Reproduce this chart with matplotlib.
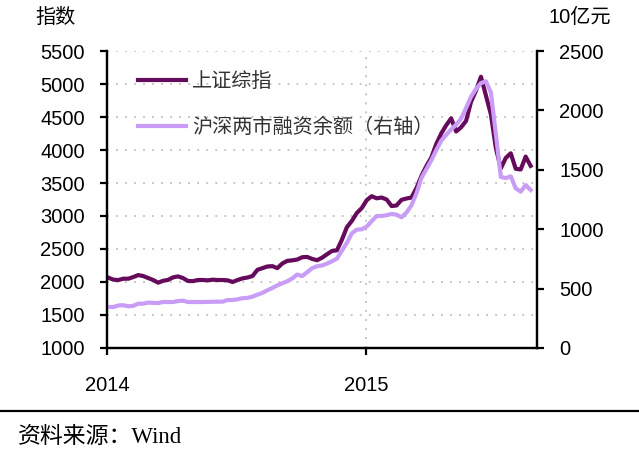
import matplotlib
matplotlib.use("Agg")
import matplotlib.pyplot as plt
import matplotlib.dates as mdates
import pandas as pd

plt.rcParams['font.family'] = ['Liberation Sans', 'Noto Sans CJK SC']

# weekly data, 2014-01-03 .. 2015-08-21
dates = pd.date_range("2014-01-03", periods=86, freq="7D")
sh_index = [2065, 2035, 2030, 2050, 2050, 2075, 2105, 2090, 2060, 2030,
            1990, 2018, 2032, 2070, 2085, 2060, 2015, 2013, 2030, 2030,
            2025, 2035, 2030, 2030, 2025, 2000, 2030, 2055, 2068, 2090,
            2185, 2210, 2235, 2240, 2210, 2280, 2320, 2328, 2340, 2375,
            2380, 2350, 2330, 2368, 2420, 2470, 2480, 2640, 2830, 2925,
            3045, 3120, 3240, 3300, 3268, 3280, 3250, 3151, 3160, 3245,
            3265, 3280, 3420, 3605, 3755, 3885, 4090, 4250, 4375, 4480,
            4280, 4345, 4440, 4730, 4900, 5110, 4825, 4540, 4030, 3722,
            3880, 3950, 3715, 3705, 3900, 3760]
margin = [345, 345, 358, 360, 351, 355, 373, 373, 382, 380,
          378, 387, 387, 387, 395, 398, 387, 387, 387, 387,
          388, 389, 390, 390, 404, 404, 410, 419, 422, 432,
          449, 464, 486, 505, 527, 545, 562, 585, 618, 605,
          638, 672, 688, 695, 710, 730, 752, 820, 885, 965,
          996, 999, 1022, 1068, 1111, 1111, 1118, 1128, 1122, 1100,
          1140, 1200, 1300, 1430, 1505, 1580, 1665, 1745, 1795, 1840,
          1880, 1930, 2020, 2115, 2180, 2230, 2245, 2150, 1800, 1440,
          1430, 1445, 1344, 1316, 1372, 1330]

dark = '#660A5C'
light = '#C99CF6'
grid_c = '#BFBFBF'
fs = 14.5

fig = plt.figure(figsize=(6.39, 4.51), dpi=100)
ax = fig.add_axes([0.1675, 0.2284, 0.6729, 0.6585])
ax2 = ax.twinx()

l1, = ax.plot(dates, sh_index, color=dark, lw=3, label='上证综指')
l2, = ax2.plot(dates, margin, color=light, lw=3, label='沪深两市融资余额（右轴）')

ax.set_xlim(pd.Timestamp("2014-01-01"), pd.Timestamp("2015-08-30"))
ax.set_ylim(1000, 5500)
ax2.set_ylim(0, 2500)
ax.set_yticks(range(1000, 5501, 500))
ax2.set_yticks(range(0, 2501, 500))
ax.xaxis.set_major_locator(mdates.YearLocator())
ax.xaxis.set_major_formatter(mdates.DateFormatter('%Y'))

for a in (ax, ax2):
    for s in a.spines.values():
        s.set_linewidth(1.6)
    a.spines['top'].set_visible(False)
    a.tick_params(labelsize=fs, width=1.6, length=5, direction='out')
ax.tick_params(axis='x', pad=15)
ax.tick_params(axis='y', pad=11)
ax2.tick_params(axis='y', pad=11)

for v in range(1500, 5501, 500):
    ax.axhline(v, color=grid_c, lw=1.3, ls=(0, (1, 4)), zorder=0)
ax.axvline(pd.Timestamp("2015-01-01"), color=grid_c, lw=1.3, ls=(0, (1, 4)), zorder=0)

leg = ax.legend(handles=[l1, l2], loc='upper left', frameon=False, fontsize=fs,
                handlelength=2.4, handletextpad=0.3, labelspacing=1.3,
                bbox_to_anchor=(0.03, 0.99))
for t in leg.get_texts():
    t.set_color('#333333')

fig.text(56 / 639, 1 - 17 / 451, '指数', fontsize=fs, ha='center', va='center')
fig.text(580 / 639, 1 - 17 / 451, '10亿元', fontsize=fs, ha='center', va='center')

fig.add_artist(plt.Line2D([0, 1], [1 - 411 / 451] * 2, color='black', lw=1.6))
fig.text(18 / 639, 1 - 437 / 451, '资料来源：Wind', fontsize=16.5, ha='left', va='center',
         family=['Liberation Serif', 'Noto Sans CJK SC'])

fig.savefig('out.png', dpi=100)
